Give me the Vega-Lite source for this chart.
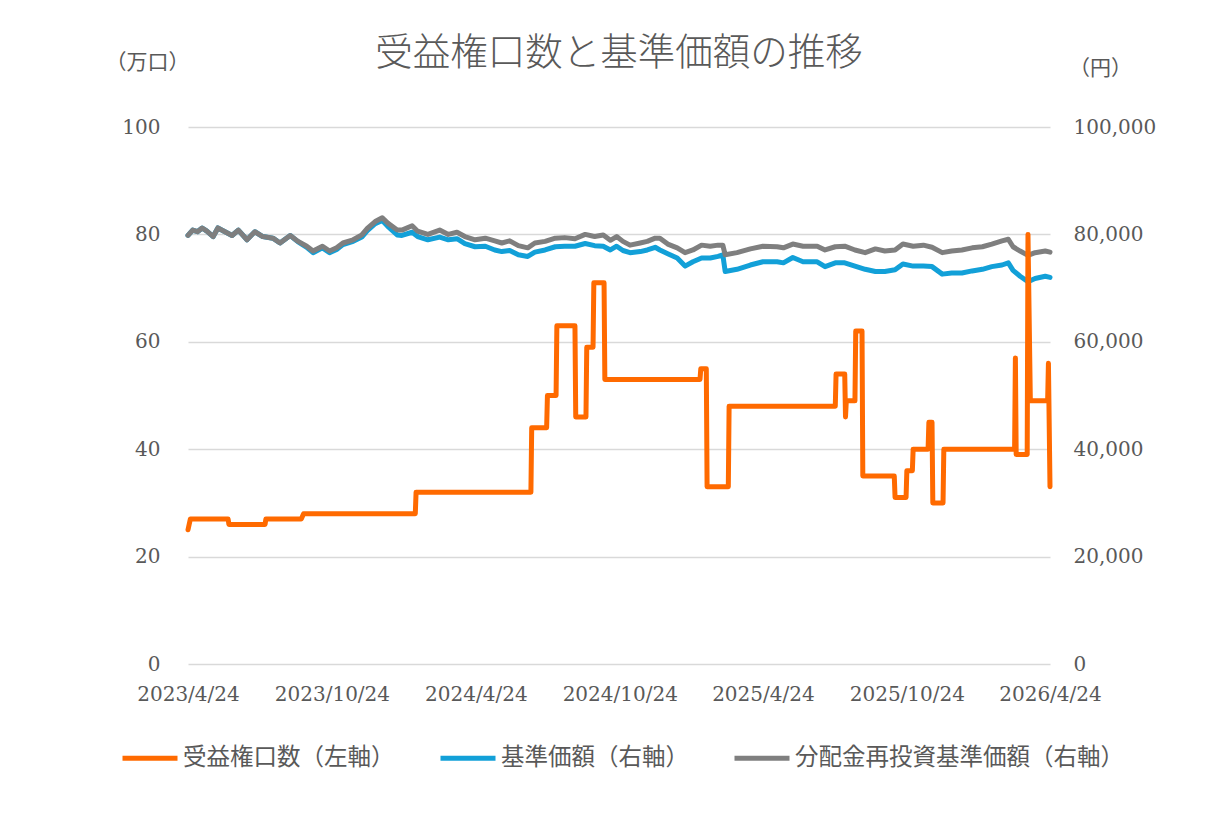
{
  "$schema": "https://vega.github.io/schema/vega-lite/v6.json",
  "width": 862,
  "height": 537,
  "autosize": {"type": "none"},
  "padding": {"left": 188, "top": 127, "right": 169, "bottom": 157},
  "background": "white",
  "config": {
    "view": {"stroke": null},
    "font": "Noto Sans CJK JP"
  },
  "title": {
    "text": "受益権口数と基準価額の推移",
    "font": "Noto Sans CJK JP",
    "fontSize": 37.5,
    "fontWeight": 300,
    "color": "#595959",
    "anchor": "middle",
    "offset": -21
  },
  "datasets": {
    "units": [
      {"d": "2023/04/24", "受益権口数（左軸）": 25},
      {"d": "2023/04/27", "受益権口数（左軸）": 27},
      {"d": "2023/06/14", "受益権口数（左軸）": 27},
      {"d": "2023/06/15", "受益権口数（左軸）": 26},
      {"d": "2023/07/31", "受益権口数（左軸）": 26},
      {"d": "2023/08/01", "受益権口数（左軸）": 27},
      {"d": "2023/09/15", "受益権口数（左軸）": 27},
      {"d": "2023/09/18", "受益権口数（左軸）": 28},
      {"d": "2024/02/07", "受益権口数（左軸）": 28},
      {"d": "2024/02/08", "受益権口数（左軸）": 32},
      {"d": "2024/07/03", "受益権口数（左軸）": 32},
      {"d": "2024/07/04", "受益権口数（左軸）": 44},
      {"d": "2024/07/23", "受益権口数（左軸）": 44},
      {"d": "2024/07/24", "受益権口数（左軸）": 50},
      {"d": "2024/08/04", "受益権口数（左軸）": 50},
      {"d": "2024/08/05", "受益権口数（左軸）": 63},
      {"d": "2024/08/28", "受益権口数（左軸）": 63},
      {"d": "2024/08/29", "受益権口数（左軸）": 46},
      {"d": "2024/09/11", "受益権口数（左軸）": 46},
      {"d": "2024/09/12", "受益権口数（左軸）": 59},
      {"d": "2024/09/20", "受益権口数（左軸）": 59},
      {"d": "2024/09/21", "受益権口数（左軸）": 71},
      {"d": "2024/10/04", "受益権口数（左軸）": 71},
      {"d": "2024/10/05", "受益権口数（左軸）": 53},
      {"d": "2025/02/03", "受益権口数（左軸）": 53},
      {"d": "2025/02/04", "受益権口数（左軸）": 55},
      {"d": "2025/02/11", "受益権口数（左軸）": 55},
      {"d": "2025/02/12", "受益権口数（左軸）": 33},
      {"d": "2025/03/11", "受益権口数（左軸）": 33},
      {"d": "2025/03/12", "受益権口数（左軸）": 48},
      {"d": "2025/07/25", "受益権口数（左軸）": 48},
      {"d": "2025/07/26", "受益権口数（左軸）": 54},
      {"d": "2025/08/06", "受益権口数（左軸）": 54},
      {"d": "2025/08/07", "受益権口数（左軸）": 46},
      {"d": "2025/08/08", "受益権口数（左軸）": 49},
      {"d": "2025/08/19", "受益権口数（左軸）": 49},
      {"d": "2025/08/20", "受益権口数（左軸）": 62},
      {"d": "2025/08/28", "受益権口数（左軸）": 62},
      {"d": "2025/08/29", "受益権口数（左軸）": 35},
      {"d": "2025/10/08", "受益権口数（左軸）": 35},
      {"d": "2025/10/09", "受益権口数（左軸）": 31},
      {"d": "2025/10/23", "受益権口数（左軸）": 31},
      {"d": "2025/10/24", "受益権口数（左軸）": 36},
      {"d": "2025/10/31", "受益権口数（左軸）": 36},
      {"d": "2025/11/01", "受益権口数（左軸）": 40},
      {"d": "2025/11/20", "受益権口数（左軸）": 40},
      {"d": "2025/11/21", "受益権口数（左軸）": 45},
      {"d": "2025/11/25", "受益権口数（左軸）": 45},
      {"d": "2025/11/26", "受益権口数（左軸）": 30},
      {"d": "2025/12/09", "受益権口数（左軸）": 30},
      {"d": "2025/12/10", "受益権口数（左軸）": 40},
      {"d": "2026/03/10", "受益権口数（左軸）": 40},
      {"d": "2026/03/11", "受益権口数（左軸）": 57},
      {"d": "2026/03/12", "受益権口数（左軸）": 39},
      {"d": "2026/03/26", "受益権口数（左軸）": 39},
      {"d": "2026/03/27", "受益権口数（左軸）": 80},
      {"d": "2026/03/30", "受益権口数（左軸）": 49},
      {"d": "2026/04/21", "受益権口数（左軸）": 49},
      {"d": "2026/04/22", "受益権口数（左軸）": 56},
      {"d": "2026/04/24", "受益権口数（左軸）": 33}
    ],
    "price": [
      {"d": "2023/04/24", "基準価額（右軸）": 79800, "分配金再投資基準価額（右軸）": 79800},
      {"d": "2023/04/30", "基準価額（右軸）": 80800, "分配金再投資基準価額（右軸）": 80800},
      {"d": "2023/05/06", "基準価額（右軸）": 80500, "分配金再投資基準価額（右軸）": 80500},
      {"d": "2023/05/12", "基準価額（右軸）": 81200, "分配金再投資基準価額（右軸）": 81200},
      {"d": "2023/05/18", "基準価額（右軸）": 80600, "分配金再投資基準価額（右軸）": 80600},
      {"d": "2023/05/26", "基準価額（右軸）": 79600, "分配金再投資基準価額（右軸）": 79600},
      {"d": "2023/06/01", "基準価額（右軸）": 81200, "分配金再投資基準価額（右軸）": 81200},
      {"d": "2023/06/10", "基準価額（右軸）": 80500, "分配金再投資基準価額（右軸）": 80500},
      {"d": "2023/06/19", "基準価額（右軸）": 79800, "分配金再投資基準価額（右軸）": 79800},
      {"d": "2023/06/27", "基準価額（右軸）": 80800, "分配金再投資基準価額（右軸）": 80800},
      {"d": "2023/07/08", "基準価額（右軸）": 79000, "分配金再投資基準価額（右軸）": 79000},
      {"d": "2023/07/18", "基準価額（右軸）": 80500, "分配金再投資基準価額（右軸）": 80500},
      {"d": "2023/07/28", "基準価額（右軸）": 79600, "分配金再投資基準価額（右軸）": 79600},
      {"d": "2023/08/10", "基準価額（右軸）": 79300, "分配金再投資基準価額（右軸）": 79300},
      {"d": "2023/08/19", "基準価額（右軸）": 78400, "分配金再投資基準価額（右軸）": 78400},
      {"d": "2023/09/01", "基準価額（右軸）": 79800, "分配金再投資基準価額（右軸）": 79800},
      {"d": "2023/09/11", "基準価額（右軸）": 78600, "分配金再投資基準価額（右軸）": 78700},
      {"d": "2023/09/22", "基準価額（右軸）": 77600, "分配金再投資基準価額（右軸）": 77800},
      {"d": "2023/09/30", "基準価額（右軸）": 76600, "分配金再投資基準価額（右軸）": 76900},
      {"d": "2023/10/12", "基準価額（右軸）": 77500, "分配金再投資基準価額（右軸）": 77800},
      {"d": "2023/10/21", "基準価額（右軸）": 76600, "分配金再投資基準価額（右軸）": 76900},
      {"d": "2023/10/30", "基準価額（右軸）": 77200, "分配金再投資基準価額（右軸）": 77500},
      {"d": "2023/11/07", "基準価額（右軸）": 78100, "分配金再投資基準価額（右軸）": 78400},
      {"d": "2023/11/20", "基準価額（右軸）": 78700, "分配金再投資基準価額（右軸）": 79000},
      {"d": "2023/12/01", "基準価額（右軸）": 79500, "分配金再投資基準価額（右軸）": 79900},
      {"d": "2023/12/08", "基準価額（右軸）": 80700, "分配金再投資基準価額（右軸）": 81100},
      {"d": "2023/12/18", "基準価額（右軸）": 82000, "分配金再投資基準価額（右軸）": 82400},
      {"d": "2023/12/27", "基準価額（右軸）": 82600, "分配金再投資基準価額（右軸）": 83100},
      {"d": "2024/01/03", "基準価額（右軸）": 81500, "分配金再投資基準価額（右軸）": 82100},
      {"d": "2024/01/15", "基準価額（右軸）": 79900, "分配金再投資基準価額（右軸）": 80800},
      {"d": "2024/01/21", "基準価額（右軸）": 79800, "分配金再投資基準価額（右軸）": 80800},
      {"d": "2024/02/03", "基準価額（右軸）": 80400, "分配金再投資基準価額（右軸）": 81600},
      {"d": "2024/02/10", "基準価額（右軸）": 79600, "分配金再投資基準価額（右軸）": 80600},
      {"d": "2024/02/23", "基準価額（右軸）": 79000, "分配金再投資基準価額（右軸）": 80000},
      {"d": "2024/03/09", "基準価額（右軸）": 79500, "分配金再投資基準価額（右軸）": 80800},
      {"d": "2024/03/20", "基準価額（右軸）": 79000, "分配金再投資基準価額（右軸）": 80000},
      {"d": "2024/03/31", "基準価額（右軸）": 79200, "分配金再投資基準価額（右軸）": 80400},
      {"d": "2024/04/10", "基準価額（右軸）": 78300, "分配金再投資基準価額（右軸）": 79600},
      {"d": "2024/04/23", "基準価額（右軸）": 77700, "分配金再投資基準価額（右軸）": 79000},
      {"d": "2024/05/06", "基準価額（右軸）": 77800, "分配金再投資基準価額（右軸）": 79300},
      {"d": "2024/05/18", "基準価額（右軸）": 77100, "分配金再投資基準価額（右軸）": 78800},
      {"d": "2024/05/27", "基準価額（右軸）": 76800, "分配金再投資基準価額（右軸）": 78400},
      {"d": "2024/06/06", "基準価額（右軸）": 77000, "分配金再投資基準価額（右軸）": 78800},
      {"d": "2024/06/17", "基準価額（右軸）": 76200, "分配金再投資基準価額（右軸）": 77900},
      {"d": "2024/06/29", "基準価額（右軸）": 75900, "分配金再投資基準価額（右軸）": 77500},
      {"d": "2024/07/08", "基準価額（右軸）": 76700, "分配金再投資基準価額（右軸）": 78400},
      {"d": "2024/07/21", "基準価額（右軸）": 77100, "分配金再投資基準価額（右軸）": 78700},
      {"d": "2024/08/03", "基準価額（右軸）": 77700, "分配金再投資基準価額（右軸）": 79300},
      {"d": "2024/08/15", "基準価額（右軸）": 77800, "分配金再投資基準価額（右軸）": 79400},
      {"d": "2024/08/28", "基準価額（右軸）": 77800, "分配金再投資基準価額（右軸）": 79200},
      {"d": "2024/09/10", "基準価額（右軸）": 78300, "分配金再投資基準価額（右軸）": 80000},
      {"d": "2024/09/22", "基準価額（右軸）": 77900, "分配金再投資基準価額（右軸）": 79600},
      {"d": "2024/10/03", "基準価額（右軸）": 77800, "分配金再投資基準価額（右軸）": 79900},
      {"d": "2024/10/12", "基準価額（右軸）": 77100, "分配金再投資基準価額（右軸）": 78900},
      {"d": "2024/10/20", "基準価額（右軸）": 77800, "分配金再投資基準価額（右軸）": 79600},
      {"d": "2024/10/28", "基準価額（右軸）": 77000, "分配金再投資基準価額（右軸）": 78700},
      {"d": "2024/11/06", "基準価額（右軸）": 76600, "分配金再投資基準価額（右軸）": 78000},
      {"d": "2024/11/19", "基準価額（右軸）": 76800, "分配金再投資基準価額（右軸）": 78400},
      {"d": "2024/11/28", "基準価額（右軸）": 77100, "分配金再投資基準価額（右軸）": 78700},
      {"d": "2024/12/08", "基準価額（右軸）": 77600, "分配金再投資基準価額（右軸）": 79300},
      {"d": "2024/12/14", "基準価額（右軸）": 77100, "分配金再投資基準価額（右軸）": 79300},
      {"d": "2024/12/24", "基準価額（右軸）": 76400, "分配金再投資基準価額（右軸）": 78200},
      {"d": "2025/01/05", "基準価額（右軸）": 75600, "分配金再投資基準価額（右軸）": 77500},
      {"d": "2025/01/15", "基準価額（右軸）": 74100, "分配金再投資基準価額（右軸）": 76600},
      {"d": "2025/01/25", "基準価額（右軸）": 74900, "分配金再投資基準価額（右軸）": 77100},
      {"d": "2025/02/05", "基準価額（右軸）": 75600, "分配金再投資基準価額（右軸）": 78000},
      {"d": "2025/02/16", "基準価額（右軸）": 75600, "分配金再投資基準価額（右軸）": 77800},
      {"d": "2025/02/26", "基準価額（右軸）": 75900, "分配金再投資基準価額（右軸）": 78000},
      {"d": "2025/03/04", "基準価額（右軸）": 76200, "分配金再投資基準価額（右軸）": 78000},
      {"d": "2025/03/07", "基準価額（右軸）": 73100, "分配金再投資基準価額（右軸）": 76200},
      {"d": "2025/03/22", "基準価額（右軸）": 73500, "分配金再投資基準価額（右軸）": 76600},
      {"d": "2025/04/08", "基準価額（右軸）": 74300, "分配金再投資基準価額（右軸）": 77300},
      {"d": "2025/04/24", "基準価額（右軸）": 74900, "分配金再投資基準価額（右軸）": 77800},
      {"d": "2025/05/12", "基準価額（右軸）": 74900, "分配金再投資基準価額（右軸）": 77700},
      {"d": "2025/05/20", "基準価額（右軸）": 74700, "分配金再投資基準価額（右軸）": 77500},
      {"d": "2025/06/01", "基準価額（右軸）": 75700, "分配金再投資基準価額（右軸）": 78200},
      {"d": "2025/06/14", "基準価額（右軸）": 74900, "分配金再投資基準価額（右軸）": 77800},
      {"d": "2025/07/02", "基準価額（右軸）": 74900, "分配金再投資基準価額（右軸）": 77800},
      {"d": "2025/07/12", "基準価額（右軸）": 74000, "分配金再投資基準価額（右軸）": 77100},
      {"d": "2025/07/25", "基準価額（右軸）": 74700, "分配金再投資基準価額（右軸）": 77700},
      {"d": "2025/08/06", "基準価額（右軸）": 74700, "分配金再投資基準価額（右軸）": 77800},
      {"d": "2025/08/19", "基準価額（右軸）": 74100, "分配金再投資基準価額（右軸）": 77100},
      {"d": "2025/09/01", "基準価額（右軸）": 73500, "分配金再投資基準価額（右軸）": 76600},
      {"d": "2025/09/14", "基準価額（右軸）": 73100, "分配金再投資基準価額（右軸）": 77300},
      {"d": "2025/09/26", "基準価額（右軸）": 73100, "分配金再投資基準価額（右軸）": 76900},
      {"d": "2025/10/09", "基準価額（右軸）": 73400, "分配金再投資基準価額（右軸）": 77100},
      {"d": "2025/10/19", "基準価額（右軸）": 74500, "分配金再投資基準価額（右軸）": 78200},
      {"d": "2025/11/01", "基準価額（右軸）": 74100, "分配金再投資基準価額（右軸）": 77800},
      {"d": "2025/11/14", "基準価額（右軸）": 74100, "分配金再投資基準価額（右軸）": 78000},
      {"d": "2025/11/25", "基準価額（右軸）": 74000, "分配金再投資基準価額（右軸）": 77600},
      {"d": "2025/12/08", "基準価額（右軸）": 72600, "分配金再投資基準価額（右軸）": 76600},
      {"d": "2025/12/20", "基準価額（右軸）": 72800, "分配金再投資基準価額（右軸）": 76900},
      {"d": "2026/01/02", "基準価額（右軸）": 72800, "分配金再投資基準価額（右軸）": 77100},
      {"d": "2026/01/15", "基準価額（右軸）": 73200, "分配金再投資基準価額（右軸）": 77500},
      {"d": "2026/01/28", "基準価額（右軸）": 73500, "分配金再投資基準価額（右軸）": 77700},
      {"d": "2026/02/09", "基準価額（右軸）": 74000, "分配金再投資基準価額（右軸）": 78200},
      {"d": "2026/02/22", "基準価額（右軸）": 74300, "分配金再投資基準価額（右軸）": 78800},
      {"d": "2026/03/02", "基準価額（右軸）": 74700, "分配金再投資基準価額（右軸）": 79100},
      {"d": "2026/03/08", "基準価額（右軸）": 73300, "分配金再投資基準価額（右軸）": 77700},
      {"d": "2026/03/17", "基準価額（右軸）": 72200, "分配金再投資基準価額（右軸）": 76900},
      {"d": "2026/03/27", "基準価額（右軸）": 71200, "分配金再投資基準価額（右軸）": 76100},
      {"d": "2026/04/05", "基準価額（右軸）": 71800, "分配金再投資基準価額（右軸）": 76600},
      {"d": "2026/04/18", "基準価額（右軸）": 72200, "分配金再投資基準価額（右軸）": 76900},
      {"d": "2026/04/24", "基準価額（右軸）": 72000, "分配金再投資基準価額（右軸）": 76700}
    ]
  },
  "encoding": {
    "x": {
      "field": "d",
      "type": "temporal",
      "scale": {
        "domain": [{"year": 2023, "month": 4, "date": 24}, {"year": 2026, "month": 4, "date": 24}],
        "nice": false
      },
      "axis": {
        "title": null,
        "values": [
          {"year": 2023, "month": 4, "date": 24},
          {"year": 2023, "month": 10, "date": 24},
          {"year": 2024, "month": 4, "date": 24},
          {"year": 2024, "month": 10, "date": 24},
          {"year": 2025, "month": 4, "date": 24},
          {"year": 2025, "month": 10, "date": 24},
          {"year": 2026, "month": 4, "date": 24}
        ],
        "format": "%Y/%-m/%-d",
        "labelFont": "DejaVu Serif",
        "labelFontSize": 20,
        "labelColor": "#595959",
        "labelPadding": 20,
        "labelFlush": false,
        "labelOverlap": false,
        "domain": false,
        "ticks": false,
        "grid": false
      }
    }
  },
  "layer": [
    {
      "data": {"name": "price"},
      "transform": [
        {"fold": ["基準価額（右軸）", "分配金再投資基準価額（右軸）"], "as": ["s", "v"]}
      ],
      "mark": {"type": "line", "strokeWidth": 5, "strokeJoin": "round", "strokeCap": "round"},
      "encoding": {
        "y": {
          "field": "v",
          "type": "quantitative",
          "scale": {"domain": [0, 100000], "nice": false},
          "axis": {
            "orient": "right",
            "values": [0, 20000, 40000, 60000, 80000, 100000],
            "format": ",.0f",
            "grid": false,
            "domain": false,
            "ticks": false,
            "labelFont": "DejaVu Serif",
            "labelFontSize": 20,
            "labelColor": "#595959",
            "labelPadding": 23,
            "title": "（円）",
            "titleFont": "Noto Sans CJK JP",
            "titleFontSize": 21,
            "titleFontWeight": "normal",
            "titleColor": "#595959",
            "titleAngle": 0,
            "titleAlign": "center",
            "titleBaseline": "middle",
            "titleX": 50,
            "titleY": -59
          }
        },
        "color": {
          "field": "s",
          "type": "nominal",
          "scale": {
            "domain": ["受益権口数（左軸）", "基準価額（右軸）", "分配金再投資基準価額（右軸）"],
            "range": ["#FF6A00", "#12A0D8", "#7F7F7F"]
          },
          "legend": {
            "title": null,
            "orient": "none",
            "direction": "horizontal",
            "legendX": -68,
            "legendY": 601,
            "padding": 0,
            "symbolType": "stroke",
            "symbolSize": 3025,
            "symbolStrokeWidth": 5,
            "labelFont": "Noto Sans CJK JP",
            "labelFontSize": 23.5,
            "labelColor": "#595959",
            "labelOffset": 3,
            "columnPadding": 35,
            "labelLimit": 500
          }
        }
      }
    },
    {
      "data": {"name": "units"},
      "transform": [
        {"fold": ["受益権口数（左軸）"], "as": ["s", "v"]}
      ],
      "mark": {"type": "line", "strokeWidth": 5, "strokeJoin": "round", "strokeCap": "round"},
      "encoding": {
        "y": {
          "field": "v",
          "type": "quantitative",
          "scale": {"domain": [0, 100], "nice": false},
          "axis": {
            "orient": "left",
            "values": [0, 20, 40, 60, 80, 100],
            "grid": true,
            "gridColor": "#D9D9D9",
            "gridWidth": 1.5,
            "domain": false,
            "ticks": false,
            "labelFont": "DejaVu Serif",
            "labelFontSize": 20,
            "labelColor": "#595959",
            "labelPadding": 28,
            "title": "（万口）",
            "titleFont": "Noto Sans CJK JP",
            "titleFontSize": 21,
            "titleFontWeight": "normal",
            "titleColor": "#595959",
            "titleAngle": 0,
            "titleAlign": "center",
            "titleBaseline": "middle",
            "titleX": -41,
            "titleY": -65
          }
        },
        "color": {
          "field": "s",
          "type": "nominal",
          "scale": {
            "domain": ["受益権口数（左軸）", "基準価額（右軸）", "分配金再投資基準価額（右軸）"],
            "range": ["#FF6A00", "#12A0D8", "#7F7F7F"]
          },
          "legend": {
            "title": null,
            "orient": "none",
            "direction": "horizontal",
            "legendX": -68,
            "legendY": 601,
            "padding": 0,
            "symbolType": "stroke",
            "symbolSize": 3025,
            "symbolStrokeWidth": 5,
            "labelFont": "Noto Sans CJK JP",
            "labelFontSize": 23.5,
            "labelColor": "#595959",
            "labelOffset": 3,
            "columnPadding": 35,
            "labelLimit": 500
          }
        }
      }
    }
  ],
  "resolve": {"scale": {"y": "independent"}}
}
